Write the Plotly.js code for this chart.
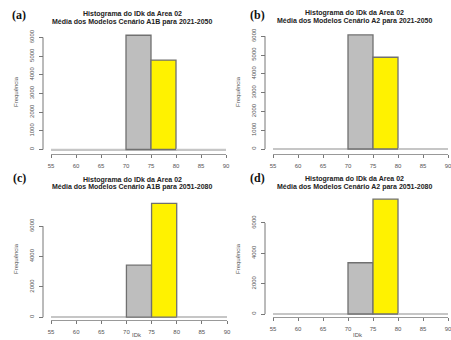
<!DOCTYPE html>
<html>
<head>
<meta charset="utf-8">
<script src="https://cdn.plot.ly/plotly-3.0.1.min.js"></script>
<style>html,body{margin:0;padding:0;background:#fff;}#chart{width:451px;height:340px;}</style>
</head>
<body>
<div id="chart"></div>
<script>
// ---- data ----
const binEdges = [55, 60, 65, 70, 75, 80, 85, 90];
const countsA = [0, 0, 0, 6120, 4790, 0, 0];
const countsB = [0, 0, 0, 6070, 4880, 0, 0];
const countsC = [0, 0, 0, 3430, 7500, 0, 0];
const countsD = [0, 0, 0, 3380, 7570, 0, 0];
const binColors = ['#bebebe', '#bebebe', '#bebebe', '#bebebe', '#fff200', '#bebebe', '#bebebe'];
const xTicks = [55, 60, 65, 70, 75, 80, 85, 90];
const yTicksAB = [0, 1000, 2000, 3000, 4000, 5000, 6000];
const yTicksCD = [0, 2000, 4000, 6000];
const panelLetters = ['(a)', '(b)', '(c)', '(d)'];
const titleLine1 = ['Histograma do IDk da Area 02', 'Histograma do IDk da Area 02', 'Histograma do IDk da Area 02', 'Histograma do IDk da Area 02'];
const titleLine2 = ['Média dos Modelos Cenário A1B para 2021-2050', 'Média dos Modelos Cenário A2 para 2021-2050', 'Média dos Modelos Cenário A1B para 2051-2080', 'Média dos Modelos Cenário A2 para 2051-2080'];
const yLabel = 'Frequência';
const xLabel = 'IDk';

// ---- layout geometry (pixels) ----
const W = 451, H = 340;
const panels = [
  {counts: countsA, yt: yTicksAB, x0: 51, x1: 226, yAx: 43, zero: 149.5, per: 18.67, bottom: 154, top: 28,
   letter: [19, 15], t1: [132, 14], t2: [132, 21.8], ylab: [16, 92], xlab: null},
  {counts: countsB, yt: yTicksAB, x0: 273, x1: 448, yAx: 265, zero: 149, per: 18.8, bottom: 153.5, top: 28,
   letter: [257, 15], t1: [354, 13.5], t2: [354, 21.3], ylab: [238, 92], xlab: null},
  {counts: countsC, yt: yTicksCD, x0: 51, x1: 227, yAx: 43, zero: 317.2, per: 15.17, bottom: 320, top: 195,
   letter: [19, 178], t1: [132, 179.5], t2: [132, 187.3], ylab: [16, 259], xlab: [137, 340]},
  {counts: countsD, yt: yTicksCD, x0: 273, x1: 448, yAx: 265, zero: 314, per: 15.17, bottom: 317, top: 190,
   letter: [257, 178], t1: [354, 179], t2: [354, 186.8], ylab: [238, 259], xlab: [358, 340]}
];

const binCenters = binEdges.slice(0, -1).map((e, i) => (e + binEdges[i + 1]) / 2);
const binWidths = binEdges.slice(0, -1).map((e, i) => binEdges[i + 1] - e);

const traces = [];
const layout = {
  width: W, height: H,
  margin: {l: 0, r: 0, t: 0, b: 0},
  paper_bgcolor: '#ffffff', plot_bgcolor: '#ffffff',
  showlegend: false,
  font: {family: 'Liberation Sans, Arial, sans-serif', color: '#444'},
  annotations: [], shapes: []
};
const px = x => x / W;
const py = y => 1 - y / H;

panels.forEach((p, i) => {
  const n = i + 1;
  const xa = 'xaxis' + (n === 1 ? '' : n), ya = 'yaxis' + (n === 1 ? '' : n);
  const xr = 'x' + (n === 1 ? '' : n), yr = 'y' + (n === 1 ? '' : n);
  traces.push({
    type: 'bar', x: binCenters, y: p.counts, width: binWidths,
    xaxis: xr, yaxis: yr,
    marker: {color: binColors, line: {color: p.counts.map(c => c > 0 ? '#707070' : '#c6c6c6'), width: 1.3}},
    hoverinfo: 'skip'
  });
  const perUnit = p.per / 1000;
  layout[xa] = {
    domain: [px(p.x0), px(p.x1)], anchor: yr,
    range: [binEdges[0], binEdges[binEdges.length - 1]],
    tickvals: xTicks, ticktext: xTicks.map(String),
    ticks: 'outside', ticklen: 3, tickcolor: '#777', tickwidth: 1,
    ticklabeloverflow: 'allow', ticklabelstandoff: 3,
    showline: true, linecolor: '#999', linewidth: 1,
    showgrid: false, zeroline: false,
    tickfont: {size: 6, color: '#555'}
  };
  layout[ya] = {
    domain: [py(p.bottom), py(p.top)], anchor: 'free', position: px(p.yAx),
    range: [-(p.bottom - p.zero) / perUnit, (p.zero - p.top) / perUnit],
    tickvals: p.yt, ticktext: p.yt.map(String),
    ticks: 'outside', ticklen: 4, tickcolor: '#777', tickwidth: 1,
    tickangle: -90, tickfont: {size: 6, color: '#555'}, ticklabelstandoff: 3,
    showline: false, showgrid: false,
    zeroline: true, zerolinecolor: '#c6c6c6', zerolinewidth: 2
  };
  layout.shapes.push({
    type: 'line', xref: 'paper', yref: yr,
    x0: px(p.yAx), x1: px(p.yAx), y0: p.yt[0], y1: p.yt[p.yt.length - 1],
    line: {color: '#777', width: 1}
  });
  layout.annotations.push(
    {text: '<b>' + panelLetters[i] + '</b>', x: px(p.letter[0]), y: py(p.letter[1]), xref: 'paper', yref: 'paper',
     showarrow: false, xanchor: 'center', yanchor: 'middle',
     font: {family: 'Liberation Serif, Times New Roman, serif', size: 12, color: '#111'}},
    {text: '<b>' + titleLine1[i] + '</b>', x: px(p.t1[0]), y: py(p.t1[1]), xref: 'paper', yref: 'paper',
     showarrow: false, xanchor: 'center', yanchor: 'middle',
     font: {family: 'Liberation Sans, Arial, sans-serif', size: 7, color: '#222'}},
    {text: '<b>' + titleLine2[i] + '</b>', x: px(p.t2[0]), y: py(p.t2[1]), xref: 'paper', yref: 'paper',
     showarrow: false, xanchor: 'center', yanchor: 'middle',
     font: {family: 'Liberation Sans, Arial, sans-serif', size: 7, color: '#222'}},
    {text: yLabel, x: px(p.ylab[0]), y: py(p.ylab[1]), xref: 'paper', yref: 'paper', textangle: -90,
     showarrow: false, xanchor: 'center', yanchor: 'middle',
     font: {size: 6, color: '#555'}}
  );
  if (p.xlab) {
    layout.annotations.push({text: xLabel, x: px(p.xlab[0]), y: py(p.xlab[1]), xref: 'paper', yref: 'paper',
      showarrow: false, xanchor: 'center', yanchor: 'bottom', font: {size: 6, color: '#555'}});
  }
});

Plotly.newPlot('chart', traces, layout, {displayModeBar: false, staticPlot: true});
</script>
</body>
</html>
